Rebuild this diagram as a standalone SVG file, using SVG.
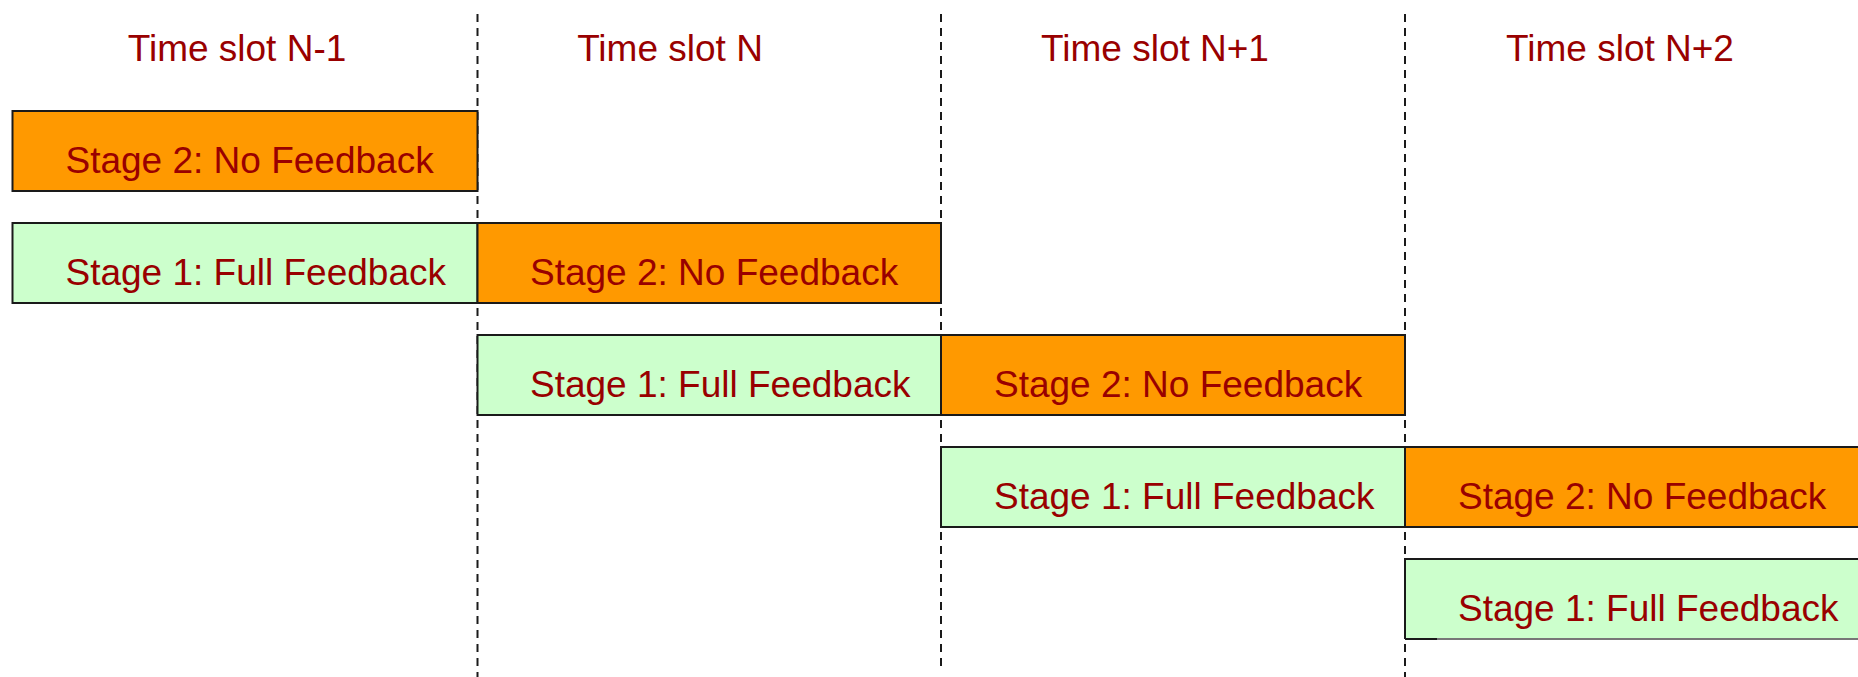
<svg xmlns="http://www.w3.org/2000/svg" width="1858" height="677" viewBox="0 0 1858 677">
<style>
.t{font-family:"Liberation Sans",Arial,sans-serif;font-size:37px;fill:#990000}
.s2{fill:#FF9900;stroke:#1a1a1a;stroke-width:2}
.s1{fill:#CCFFCC;stroke:#1a1a1a;stroke-width:2}
.dl{stroke:#1a1a1a;stroke-width:2;stroke-dasharray:8 6;fill:none}
</style>
<rect width="1858" height="677" fill="#fff"/>
<g id="connectors">
<line class="dl" x1="477.5" y1="14" x2="477.5" y2="677"/>
<line class="dl" x1="941" y1="14" x2="941" y2="667"/>
<line class="dl" x1="1405" y1="14" x2="1405" y2="677"/>
</g>
<g id="titles">
<text class="t" x="237" y="61" text-anchor="middle">Time slot N-1</text>
<text class="t" x="670" y="61" text-anchor="middle">Time slot N</text>
<text class="t" x="1155" y="61" text-anchor="middle">Time slot N+1</text>
<text class="t" x="1620" y="61" text-anchor="middle">Time slot N+2</text>
</g>
<g id="r1s2"><rect class="s2" x="12.5" y="111" width="465" height="80"/><text class="t" x="65.5" y="173">Stage 2: No Feedback</text></g>
<g id="r2s1"><rect class="s1" x="12.5" y="223" width="465" height="80"/><text class="t" x="65.5" y="285">Stage 1: Full Feedback</text></g>
<g id="r2s2"><rect class="s2" x="477.5" y="223" width="463.5" height="80"/><text class="t" x="530" y="285">Stage 2: No Feedback</text></g>
<g id="r3s1"><rect class="s1" x="477.5" y="335" width="463.5" height="80"/><text class="t" x="530" y="397">Stage 1: Full Feedback</text></g>
<g id="r3s2"><rect class="s2" x="941" y="335" width="464" height="80"/><text class="t" x="994" y="397">Stage 2: No Feedback</text></g>
<g id="r4s1"><rect class="s1" x="941" y="447" width="464" height="80"/><text class="t" x="994" y="509">Stage 1: Full Feedback</text></g>
<g id="r4s2"><rect class="s2" x="1405" y="447" width="470" height="80"/><text class="t" x="1458" y="509">Stage 2: No Feedback</text></g>
<g id="r5s1">
<rect x="1405" y="559" width="470" height="80" fill="#CCFFCC"/>
<path d="M1405 639 V559 H1875" fill="none" stroke="#1a1a1a" stroke-width="2"/>
<line x1="1405" y1="639" x2="1437" y2="639" stroke="#1a1a1a" stroke-width="2"/>
<line x1="1437" y1="639" x2="1875" y2="639" stroke="#777" stroke-width="2"/>
<text class="t" x="1458" y="621">Stage 1: Full Feedback</text>
</g>
</svg>
